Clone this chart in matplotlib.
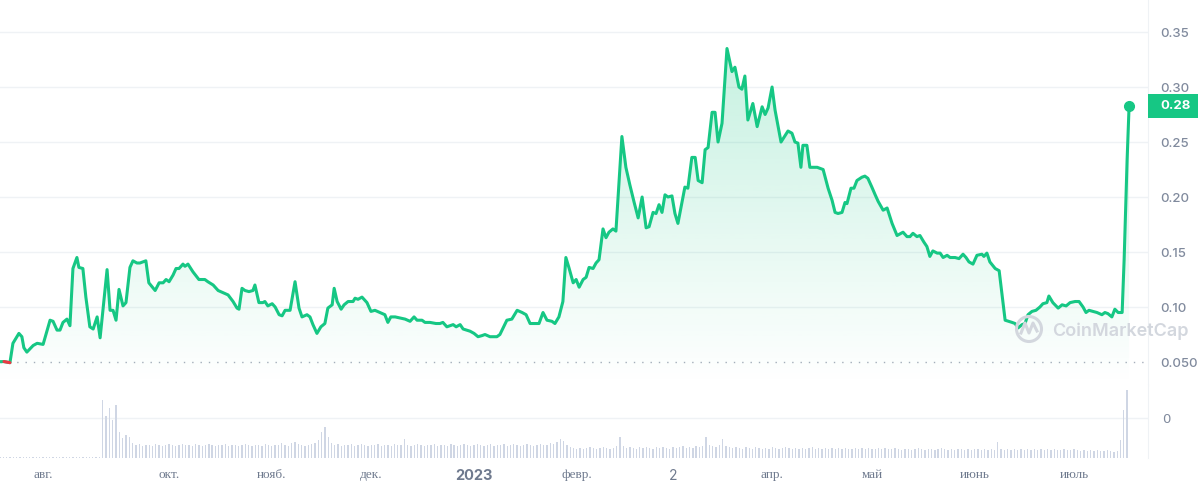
import matplotlib
matplotlib.use('Agg')
import matplotlib.pyplot as plt
import matplotlib.dates as mdates
import matplotlib.transforms as mtransforms
import matplotlib.patches as mpatches
import numpy as np
import pandas as pd

#%% Data

start_date = '2022-08-11'

# days after start_date, price in USD
price_days = [0.0, 1.2, 3.0, 3.9, 5.7, 6.6, 7.2, 8.1, 10.0, 11.2, 13.0, 15.1, 16.0, 17.2, 18.1, 19.0,
              20.2, 21.1, 22.0, 23.2, 23.8, 25.0, 25.9, 27.1, 28.1, 29.3, 30.2, 32.3, 33.2, 34.1,
              35.0, 35.9, 37.1, 38.0, 39.2, 40.1, 41.3, 42.2, 44.0, 44.9, 46.8, 48.0, 49.2, 50.1,
              51.0, 52.2, 53.1, 54.0, 55.2, 55.8, 56.7, 58.2, 60.0, 61.8, 62.7, 64.3, 65.8, 67.3,
              68.8, 70.3, 71.5, 72.1, 73.0, 73.9, 75.1, 76.3, 76.9, 78.1, 79.3, 79.9, 80.8, 82.1,
              83.0, 84.2, 85.1, 86.0, 87.5, 89.0, 90.2, 91.1, 92.6, 93.5, 94.4, 95.6, 96.8, 98.0,
              98.9, 100.2, 100.8, 101.7, 102.9, 103.8, 105.0, 106.5, 107.1, 108.0, 109.2, 110.7,
              111.9, 113.1, 114.6, 116.1, 117.0, 117.9, 119.2, 120.7, 122.2, 123.7, 124.9, 125.8,
              127.3, 128.2, 129.7, 131.5, 132.7, 133.6, 134.8, 136.7, 137.6, 138.8, 139.7, 141.8,
              143.0, 144.2, 145.4, 146.3, 147.8, 149.9, 150.8, 152.9, 154.4, 156.0, 157.5, 158.7,
              159.9, 161.4, 162.6, 163.8, 165.0, 166.5, 167.4, 168.6, 169.8, 170.7, 171.6, 172.9,
              173.8, 174.7, 175.9, 176.8, 177.7, 178.9, 179.8, 180.7, 181.9, 182.8, 183.7, 184.9,
              185.8, 187.6, 188.8, 190.0, 191.3, 192.5, 193.7, 194.9, 195.8, 197.0, 197.9, 198.8,
              199.7, 200.6, 201.5, 202.7, 203.6, 204.5, 205.7, 206.6, 207.5, 208.7, 209.7, 210.6,
              211.8, 212.7, 213.6, 214.8, 215.7, 216.6, 217.8, 219.3, 220.8, 221.7, 222.9, 223.8,
              224.7, 225.6, 227.1, 228.4, 229.9, 230.8, 231.7, 232.9, 233.8, 235.6, 237.7, 238.9,
              239.8, 240.7, 241.6, 242.2, 243.4, 244.3, 246.5, 248.3, 249.8, 251.0, 251.9, 252.8,
              254.0, 254.9, 255.5, 256.7, 257.6, 258.5, 260.0, 260.9, 261.8, 263.0, 264.0, 264.9,
              266.4, 267.6, 269.1, 270.6, 272.4, 273.6, 274.5, 275.4, 276.6, 277.5, 278.7, 279.6,
              280.5, 281.4, 282.7, 283.6, 284.5, 285.7, 286.6, 288.1, 289.3, 290.5, 291.4, 292.3,
              293.5, 294.7, 296.2, 296.8, 297.7, 298.6, 300.2, 301.4, 303.2, 305.3, 306.2, 307.1,
              308.3, 309.2, 310.1, 311.3, 312.5, 313.7, 314.6, 315.8, 316.4, 317.6, 319.2, 320.4,
              321.6, 322.8, 324.3, 325.5, 326.7, 327.6, 328.5, 329.7, 330.9, 332.4, 333.3, 334.2,
              335.4, 336.3, 337.3, 338.5, 339.1, 340.0, 340.6]

price = [0.0503, 0.0504, 0.0494, 0.067, 0.076, 0.073, 0.063, 0.059, 0.065, 0.067, 0.066, 0.088, 0.087, 0.079, 0.079, 0.086,
         0.089, 0.083, 0.135, 0.145, 0.136, 0.135, 0.109, 0.082, 0.080, 0.091, 0.072, 0.134, 0.097, 0.097,
         0.088, 0.116, 0.101, 0.104, 0.136, 0.142, 0.140, 0.140, 0.142, 0.122, 0.115, 0.122, 0.122, 0.125,
         0.123, 0.129, 0.135, 0.135, 0.139, 0.137, 0.139, 0.132, 0.125, 0.125, 0.123, 0.120, 0.115, 0.113,
         0.111, 0.105, 0.099, 0.098, 0.117, 0.115, 0.114, 0.115, 0.120, 0.104, 0.104, 0.105, 0.101, 0.103,
         0.100, 0.093, 0.092, 0.097, 0.097, 0.123, 0.099, 0.091, 0.093, 0.091, 0.084, 0.076, 0.082, 0.085,
         0.099, 0.102, 0.117, 0.105, 0.098, 0.102, 0.105, 0.105, 0.108, 0.107, 0.109, 0.104,
         0.096, 0.097, 0.095, 0.093, 0.086, 0.091, 0.091, 0.090, 0.089, 0.087, 0.091, 0.088,
         0.088, 0.086, 0.086, 0.085, 0.085, 0.086, 0.082, 0.084, 0.082, 0.084, 0.080, 0.078,
         0.076, 0.073, 0.074, 0.075, 0.073, 0.073, 0.075, 0.088, 0.089, 0.097, 0.095, 0.093,
         0.085, 0.085, 0.085, 0.095, 0.088, 0.087, 0.085, 0.091, 0.105, 0.145, 0.136, 0.122,
         0.125, 0.118, 0.125, 0.127, 0.136, 0.135, 0.140, 0.143, 0.171, 0.163, 0.168, 0.171,
         0.169, 0.255, 0.227, 0.211, 0.195, 0.181, 0.200, 0.172, 0.173, 0.186, 0.185, 0.193,
         0.186, 0.202, 0.200, 0.201, 0.185, 0.176, 0.195, 0.209, 0.208, 0.236, 0.236, 0.215,
         0.213, 0.243, 0.245, 0.277, 0.277, 0.250, 0.267, 0.335, 0.314, 0.318, 0.300, 0.298,
         0.310, 0.270, 0.285, 0.264, 0.282, 0.275, 0.281, 0.300, 0.279, 0.250, 0.260, 0.258,
         0.250, 0.249, 0.227, 0.247, 0.247, 0.227, 0.227, 0.225, 0.208, 0.197, 0.186, 0.185,
         0.186, 0.195, 0.194, 0.208, 0.208, 0.215, 0.218, 0.219, 0.217, 0.209, 0.202, 0.196,
         0.188, 0.190, 0.176, 0.165, 0.168, 0.164, 0.164, 0.167, 0.164, 0.165, 0.159, 0.155,
         0.146, 0.151, 0.149, 0.149, 0.145, 0.147, 0.145, 0.145, 0.144, 0.148, 0.145, 0.141,
         0.139, 0.147, 0.148, 0.146, 0.149, 0.141, 0.135, 0.133, 0.088, 0.086, 0.085, 0.081,
         0.084, 0.085, 0.093, 0.096, 0.097, 0.100, 0.103, 0.104, 0.110, 0.104, 0.099, 0.102,
         0.101, 0.104, 0.105, 0.105, 0.100, 0.095, 0.097, 0.096, 0.095, 0.093, 0.095, 0.094,
         0.091, 0.098, 0.095, 0.095, 0.143, 0.234, 0.283]

# daily volume bars (relative heights), one per day from start_date
volume = [0.8, 0.6, 0.8, 0.6, 0.8, 0.6, 0.8, 0.6, 0.8, 0.6,
          0.8, 0.6, 0.8, 0.6, 0.8, 0.6, 0.8, 0.6, 0.8, 0.6,
          0.8, 0.6, 0.8, 0.6, 0.8, 0.6, 0.8, 0.6, 0.8, 0.6, 0.8,
          58, 42, 50, 38, 53, 26, 20, 23, 21, 15,
          13, 14, 12, 13, 13, 12, 14, 13, 12, 13,
          14, 13, 12, 13, 14, 13, 13, 12, 14, 13,
          12, 13, 14, 13, 12, 13, 13, 14, 12, 13,
          13, 12, 13, 14, 13, 12, 13, 13, 12, 14,
          13, 12, 13, 13, 15, 13, 12, 15, 16, 14,
          13, 12, 13, 14, 15, 18, 26, 31, 21, 15,
          13, 14, 12, 13, 13, 14, 12, 13, 14, 13,
          12, 13, 13, 14, 12, 13, 13, 12, 14, 13,
          13, 19, 13, 12, 13, 14, 13, 12, 13, 13,
          14, 12, 13, 13, 12, 14, 13, 12, 13, 14,
          13, 12, 13, 14, 13, 12, 13, 14, 12, 13,
          13, 14, 12, 13, 14, 13, 12, 13, 14, 13,
          12, 13, 14, 13, 13, 15, 14, 16, 19, 17,
          13, 11, 10, 9, 10, 9, 10, 11, 10, 9,
          10, 11, 10, 9, 10, 12, 21, 12, 10, 11,
          10, 9, 11, 10, 11, 10, 9, 11, 10, 11,
          10, 9, 11, 10, 11, 12, 10, 11, 10, 12,
          11, 12, 21, 13, 12, 11, 13, 19, 12, 11,
          10, 11, 10, 9, 11, 10, 9, 11, 10, 9,
          10, 9, 11, 10, 9, 10, 11, 10, 9, 10,
          9, 10, 9, 10, 11, 9, 10, 9, 10, 9,
          10, 9, 10, 9, 10, 9, 9, 10, 9, 10,
          9, 10, 9, 9, 10, 9, 10, 9, 9, 10,
          9, 8, 9, 9, 8, 9, 10, 9, 8, 9,
          9, 8, 9, 10, 9, 8, 9, 8, 9, 9,
          8, 9, 8, 9, 9, 8, 9, 8, 9, 8,
          16, 9, 8, 9, 8, 9, 8, 9, 8, 9,
          8, 9, 8, 9, 8, 9, 8, 9, 8, 8,
          9, 8, 8, 9, 8, 7, 8, 7, 8, 7,
          8, 7, 7, 8, 7, 6, 7, 18, 48, 68]

tick_dates = ['2022-08-24', '2022-10-01', '2022-11-01', '2022-12-01', '2023-01-01', '2023-02-01',
              '2023-03-02', '2023-04-01', '2023-05-01', '2023-06-01', '2023-07-01']
tick_labels = ['авг.', 'окт.', 'нояб.', 'дек.', '2023', 'февр.', '2', 'апр.', 'май', 'июнь', 'июль']

price_ticks = [0.05, 0.10, 0.15, 0.20, 0.25, 0.30, 0.35]
price_tick_labels = ['0.050', '0.10', '0.15', '0.20', '0.25', '0.30', '0.35']
last_label = '0.28'

#%% Colours

green = '#16c784'
red = '#ea3943'
grid_c = '#eff2f5'
label_c = '#808a9d'
vol_c = '#cfd6e4'

#%% Figure

W, H = 1200, 491
fig = plt.figure(figsize=(W/100, H/100), dpi=100)
ax = fig.add_axes([0, (H-385)/H, 1148/W, 385/H])
axv = fig.add_axes([0, (H-458)/H, 1148/W, 73/H], sharex=ax)

t0 = pd.Timestamp(start_date)
x = mdates.date2num(t0 + pd.to_timedelta(price_days, unit='D'))
xv = mdates.date2num(t0 + pd.to_timedelta(np.arange(len(volume)), unit='D'))
x_lo = mdates.date2num(t0)
x_hi = mdates.date2num(t0 + pd.Timedelta(days=346.3))
y_lo, y_hi = 0.0291, 0.3791

# grid
for v in price_ticks[1:]:
    ax.axhline(v, color=grid_c, lw=1, zorder=0)
ax.axhline(0.05, color='#a6aebb', lw=1, ls=(0, (1, 5)), zorder=0)

# gradient fill under the line
n = 256
grad = np.zeros((n, 1, 4))
rgb = matplotlib.colors.to_rgb(green)
grad[:, 0, 0], grad[:, 0, 1], grad[:, 0, 2] = rgb
grad[:, 0, 3] = np.linspace(0, 0.28, n)
poly = ax.fill_between(x, price, y_lo, facecolor='none', edgecolor='none')
im = ax.imshow(grad, extent=[x_lo, x_hi, y_lo, y_hi], aspect='auto', origin='lower', zorder=1)
im.set_clip_path(poly.get_paths()[0], transform=ax.transData)

ax.plot(x, price, color=green, lw=2.2, solid_joinstyle='round', zorder=3)
ax.plot(x[1:3], price[1:3], color=red, lw=2.2, solid_capstyle='round', zorder=4)
ax.plot(x[-1], price[-1], 'o', ms=7, color=green, zorder=5)

ax.set_xlim(x_lo, x_hi)
ax.set_ylim(y_lo, y_hi)
ax.yaxis.tick_right()
ax.set_yticks(price_ticks)
ax.set_yticklabels(price_tick_labels)
ax.tick_params(axis='y', length=0, pad=8.6, labelcolor=label_c, labelsize=9.5)
ax.tick_params(axis='x', length=0, labelbottom=False)
for lab in ax.get_yticklabels():
    lab.set_fontfamily(['Inter', 'DejaVu Sans'])
    lab.set_fontweight('medium')
for s in ['top', 'left', 'bottom']:
    ax.spines[s].set_visible(False)
ax.spines['right'].set_color(grid_c)

# last price tag
blend = mtransforms.blended_transform_factory(ax.transAxes, ax.transData)
ax.add_patch(mpatches.Rectangle((1.0, price[-1] - 0.0109), 50/1148, 0.0218, transform=blend,
                                facecolor=green, edgecolor='none', clip_on=False, zorder=6))
ax.text(1160/1148, price[-1], last_label, transform=blend, ha='left', va='center', color='white',
        fontsize=9.5, fontweight='bold', family=['Inter', 'DejaVu Sans'], zorder=7)

# volume
axv.bar(xv, volume, width=0.4, color=vol_c, zorder=2)
axv.set_ylim(0, 73)
axv.axhline(40, color=grid_c, lw=1, zorder=0)
axv.yaxis.tick_right()
axv.set_yticks([40])
axv.set_yticklabels(['0'])
axv.tick_params(axis='y', length=0, pad=10, labelcolor=label_c, labelsize=9.5)
for s in ['top', 'left', 'bottom']:
    axv.spines[s].set_visible(False)
axv.spines['right'].set_color(grid_c)

axv.set_xticks(mdates.date2num(pd.to_datetime(tick_dates)))
axv.set_xticklabels(tick_labels)
axv.tick_params(axis='x', length=0, pad=8, labelcolor='#6f7a8e')
for lab in axv.get_xticklabels():
    if lab.get_text() == '2023':
        lab.set_fontfamily(['Inter', 'DejaVu Sans'])
        lab.set_fontweight('bold')
        lab.set_fontsize(10.5)
    elif lab.get_text() == '2':
        lab.set_fontfamily(['Inter', 'DejaVu Sans'])
        lab.set_fontsize(10)
    else:
        lab.set_fontfamily(['Liberation Serif', 'DejaVu Serif'])
        lab.set_fontsize(9.5)

# watermark
wm = '#d3d7de'
fig.text(1052/W, 1 - 331/H, 'CoinMarketCap', color=wm, fontsize=13, fontweight='semibold',
         family=['Inter', 'DejaVu Sans'], ha='left', va='center', zorder=2)
fig.patches.append(mpatches.Circle((10.29, (H-329)/100), 0.125, transform=fig.dpi_scale_trans,
                                   facecolor='none', edgecolor=wm, lw=2.2))
fig.lines.append(plt.Line2D([10.21, 10.25, 10.29, 10.33, 10.37],
                            [(H-333)/100, (H-323)/100, (H-333)/100, (H-323)/100, (H-331)/100],
                            transform=fig.dpi_scale_trans, color=wm, lw=2.2))

plt.savefig('out.png', dpi=100)
